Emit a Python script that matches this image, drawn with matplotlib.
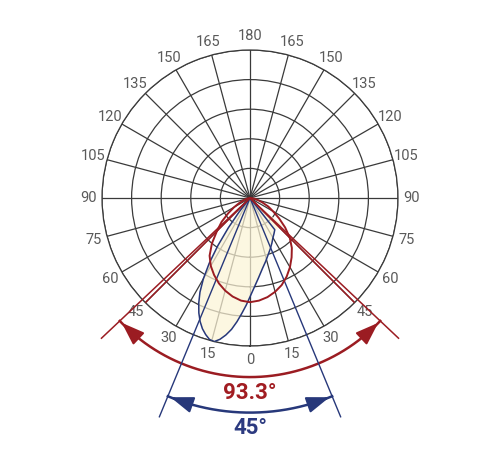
import numpy as np
import matplotlib
matplotlib.use("Agg")
from matplotlib import pyplot as plt

plt.rcParams['font.family'] = ['Roboto', 'DejaVu Sans']

# angle labels (degrees from nadir)
tick_angles = list(range(0, 360, 15))
tick_labels = [str(a if a <= 180 else 360 - a) for a in tick_angles]

# curve 1 (red), angle in degrees, positive = left
red_ang = [-90, -85, -80, -75, -70, -65, -60, -55, -50, -45, -40, -35, -30, -25, -20, -15, -10, -5,
           0, 5, 10, 15, 20, 25, 30, 35, 40, 45, 50, 55, 60, 65, 70, 75, 80, 90]
red_r = [0, 0.06, 0.15, 0.28, 0.45, 0.68, 0.9, 1.2, 1.55, 1.9, 2.2, 2.45, 2.7, 2.93, 3.13, 3.28, 3.4, 3.48,
         3.52, 3.48, 3.38, 3.24, 3.07, 2.87, 2.65, 2.38, 2.0, 1.58, 1.25, 0.9, 0.62, 0.4, 0.24, 0.13, 0.06, 0]

# curve 2 (blue)
blue_ang = [-45, -38, -34, -30, -26, -22, -18, -14, -10, -6, -2, 2, 4, 6, 8, 10, 12, 14,
            16, 18, 20, 22, 24, 26, 28, 30, 32, 34, 36, 38, 40]
blue_r = [0, 1.36, 1.45, 1.55, 1.69, 1.84, 2.0, 2.2, 2.42, 2.72, 3.1, 3.62, 3.9, 4.2, 4.48, 4.7, 4.88, 5.0,
          4.97, 4.85, 4.7, 4.5, 4.25, 3.95, 3.6, 3.15, 2.6, 1.95, 1.25, 0.6, 0]

# shaded area
fill_ang = [-50, -50] + blue_ang[1:]
fill_r = [0, 1.45] + blue_r[1:]

# beam angles
red_beam = 93.3
blue_beam = 45

RED = '#9b1c22'
BLUE = '#27387a'
GRID = '#3a3a3a'

fig = plt.figure(figsize=(5, 4.5), dpi=100)
ax = fig.add_axes([0.204, 0.231, 0.592, 0.658], projection='polar')
ax.set_theta_zero_location('S')
ax.set_theta_direction(-1)
ax.set_ylim(0, 5)
ax.set_thetagrids(tick_angles, labels=[])
ax.set_rgrids([1, 2, 3, 4, 5], labels=[])
ax.grid(True, color=GRID, lw=0.9)
ax.spines['polar'].set_color(GRID)
ax.spines['polar'].set_linewidth(0.9)
ax.set_axisbelow(True)

for a, lab in zip(tick_angles, tick_labels):
    ax.text(np.radians(a), 5.47, lab, ha='center', va='center',
            fontsize=10.5, color='#5a5a5a', clip_on=False)

ax.fill(np.radians(fill_ang), fill_r, color='#fcf4d6', alpha=0.72, lw=0, zorder=2)
ax.plot(np.radians(blue_ang), blue_r, color=BLUE, lw=1.1, zorder=4)
ax.plot(np.radians(red_ang), red_r, color=RED, lw=1.4, zorder=5)

# beam lines
hr = red_beam / 2
hb = blue_beam / 2
for s in (-1, 1):
    ax.plot([np.radians(s * 45)] * 2, [0, 5], color=RED, lw=1.1, zorder=5)
    ax.plot([np.radians(s * hr)] * 2, [0, 6.9], color=RED, lw=1.1, zorder=5, clip_on=False)
    ax.plot([np.radians(s * hb)] * 2, [0, 8.0], color=BLUE, lw=1.0, zorder=4, clip_on=False)

# dimension arcs
t = np.linspace(-hr, hr, 200)
ax.plot(np.radians(t), np.full_like(t, 6.05), color=RED, lw=1.8, clip_on=False)
t = np.linspace(-hb, hb, 200)
ax.plot(np.radians(t), np.full_like(t, 7.25), color=BLUE, lw=1.8, clip_on=False)

for s in (-1, 1):
    ax.annotate('', xy=(np.radians(s * hr), 6.05), xytext=(np.radians(s * (hr - 7)), 6.05),
                arrowprops=dict(arrowstyle='-|>,head_length=1.4,head_width=0.5',
                                mutation_scale=10, color=RED, lw=1.5),
                annotation_clip=False)
    ax.annotate('', xy=(np.radians(s * hb), 7.25), xytext=(np.radians(s * (hb - 6)), 7.25),
                arrowprops=dict(arrowstyle='-|>,head_length=1.4,head_width=0.5',
                                mutation_scale=10, color=BLUE, lw=1.5),
                annotation_clip=False)

ax.text(0, 6.6, '93.3°', ha='center', va='center', fontsize=16, fontweight='bold',
        color='#a11d22', clip_on=False)
ax.text(0, 7.78, '45°', ha='center', va='center', fontsize=16, fontweight='bold',
        color='#2c3a80', clip_on=False)

fig.savefig('out.png', dpi=100)
